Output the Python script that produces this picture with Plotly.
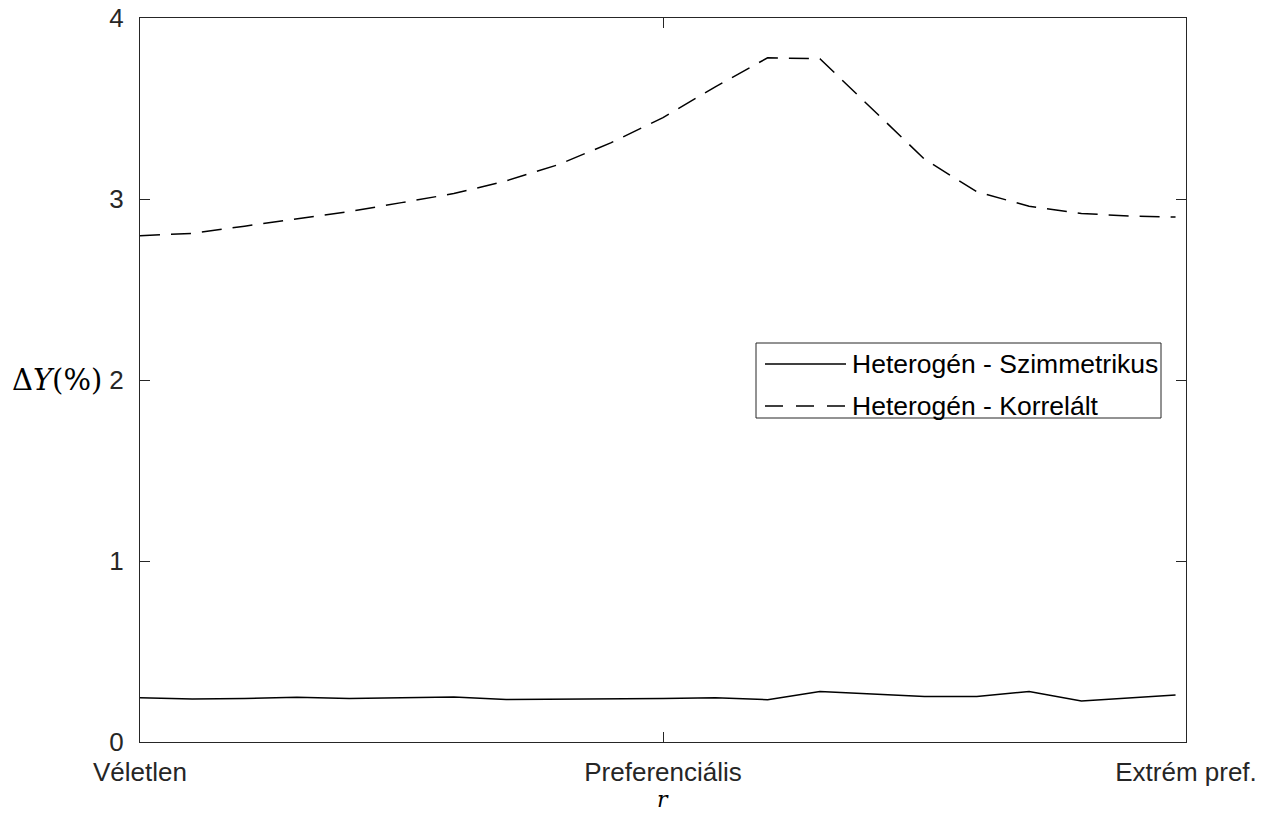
import plotly.graph_objects as go

# r positions of the samples (0 = Véletlen, 10 = Preferenciális, 20 = Extrém pref.)
r_pos = [0, 1, 2, 3, 4, 5, 6, 7, 8, 9, 10, 11, 12, 13, 14, 15, 16, 17, 18, 19, 19.8]

# ΔY (%) values
het_szimm = [0.245, 0.238, 0.240, 0.247, 0.240, 0.242, 0.248, 0.235, 0.236, 0.238, 0.241,
             0.245, 0.234, 0.279, 0.266, 0.251, 0.252, 0.279, 0.227, 0.244, 0.260]
het_korr = [2.797, 2.81, 2.85, 2.89, 2.93, 2.98, 3.03, 3.10, 3.19, 3.31, 3.45,
            3.62, 3.78, 3.775, 3.50, 3.22, 3.04, 2.96, 2.92, 2.905, 2.90]

series_names = ["Heterogén - Szimmetrikus", "Heterogén - Korrelált"]
series_dash = ["solid", "20px,11px"]

x_tick_vals = [0, 10, 20]
x_tick_text = ["Véletlen", "Preferenciális", "Extrém pref."]
y_tick_vals = [0, 1, 2, 3, 4]

W, H = 1261, 814
L, R, T, B = 140, 1186, 18, 742
AX = "#262626"
SANS = "Liberation Sans, Arial, Helvetica, sans-serif"
SERIF = "DejaVu Serif, Liberation Serif, serif"


def px(x):
    return (x - L) / (R - L)


def py(y):
    return (B - y) / (B - T)


fig = go.Figure()
for name, vals, dash in zip(series_names, [het_szimm, het_korr], series_dash):
    fig.add_trace(go.Scatter(x=r_pos, y=vals, mode="lines", name=name, showlegend=False,
                             line=dict(color="black", width=1.5, dash=dash)))

axis_common = dict(showline=True, linecolor=AX, linewidth=1, mirror="ticks",
                   ticks="inside", ticklen=10, tickcolor=AX, tickwidth=1,
                   showgrid=False, zeroline=False, automargin=False,
                   tickfont=dict(family=SANS, size=26, color=AX))

fig.update_xaxes(range=[0, 20], tickvals=x_tick_vals, ticktext=x_tick_text,
                 ticklabelstandoff=7, **axis_common)
fig.update_yaxes(range=[0, 4], tickvals=y_tick_vals, ticklabelstandoff=10, **axis_common)

# legend box drawn in paper coordinates
lx0, lx1, ly0, ly1 = 756, 1161, 343, 418
shapes = [dict(type="rect", xref="paper", yref="paper",
               x0=px(lx0), x1=px(lx1), y0=py(ly1), y1=py(ly0),
               line=dict(color=AX, width=1), fillcolor="white", layer="above")]
annotations = []
rows = [364, 406]
for name, dash, yy in zip(series_names, ["solid", "18px,13px"], rows):
    shapes.append(dict(type="line", xref="paper", yref="paper",
                       x0=px(765), x1=px(846), y0=py(yy), y1=py(yy),
                       line=dict(color="black", width=1.5, dash=dash), layer="above"))
    annotations.append(dict(xref="paper", yref="paper", x=px(850), y=py(yy),
                            xanchor="left", yanchor="middle", showarrow=False,
                            text=name, font=dict(family=SANS, size=26.5, color="black")))

# axis titles
annotations.append(dict(xref="paper", yref="paper", x=px(57), y=py(380),
                        xanchor="center", yanchor="middle", showarrow=False,
                        text="Δ<i>Y</i>(%)", font=dict(family=SERIF, size=29, color="black")))
annotations.append(dict(xref="paper", yref="paper", x=px(663), y=py(814),
                        xanchor="center", yanchor="bottom", showarrow=False,
                        text="<i>r</i>", font=dict(family=SERIF, size=22, color="black")))

fig.update_layout(width=W, height=H, autosize=False,
                  margin=dict(l=L, r=W - R, t=T, b=H - B),
                  paper_bgcolor="white", plot_bgcolor="white",
                  shapes=shapes, annotations=annotations)

fig.write_html("out.html")
